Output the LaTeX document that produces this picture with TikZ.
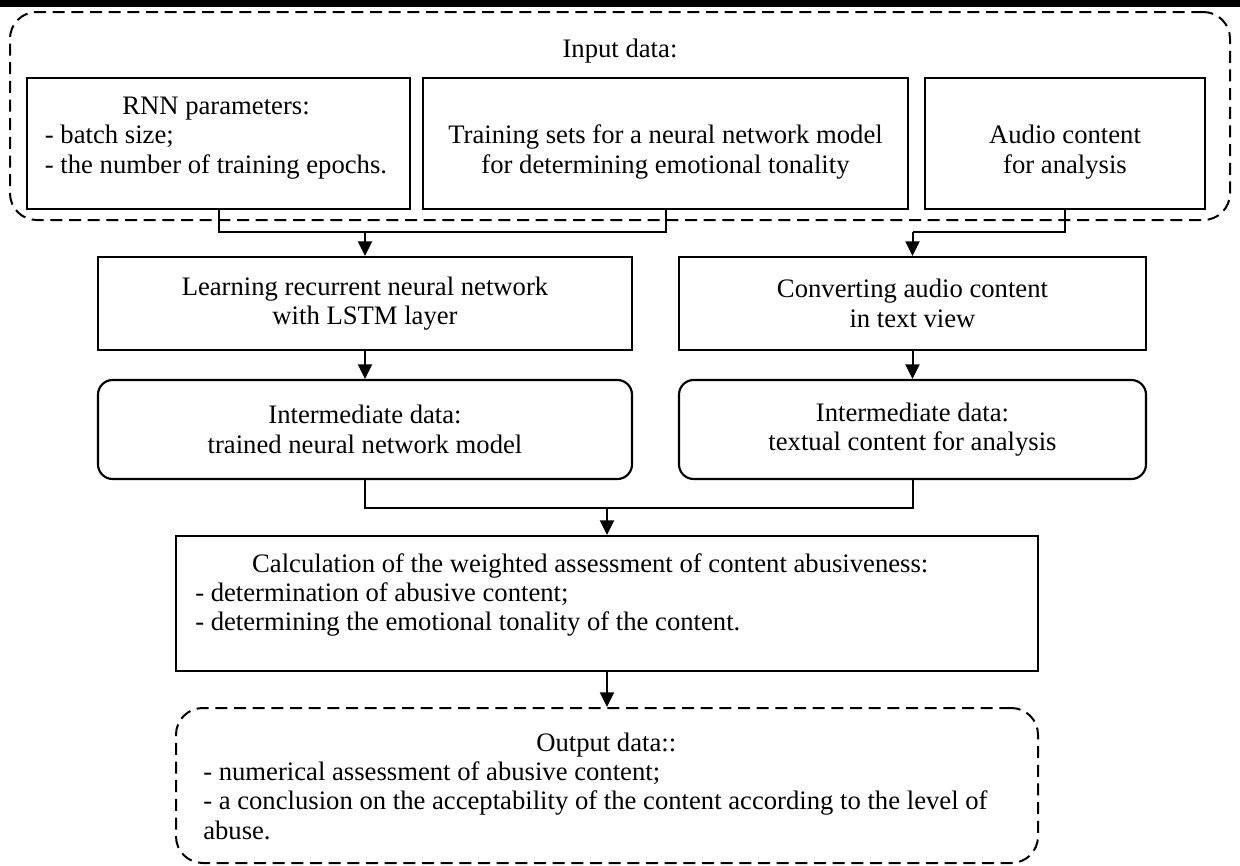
\documentclass[tikz,border=0pt]{standalone}
\usepackage{fontspec}
\setmainfont{Liberation Serif}
\usetikzlibrary{arrows.meta}
\begin{document}
\begin{tikzpicture}[x=0.75pt,y=-0.75pt,
  every node/.style={font=\fontsize{20}{22}\selectfont},
  sz/.style 2 args={minimum width=#1*0.75pt, minimum height=#2*0.75pt},
  ln/.style={line width=1.5pt},
  boxs/.style={draw, line width=1.6pt, rectangle, inner sep=0pt, align=center},
  rbox/.style={boxs, rounded corners=11pt},
  dbox/.style={draw, line width=1.5pt, dash pattern=on 9pt off 5pt, rounded corners=20pt, inner sep=0pt},
  txt/.style={inner sep=0pt},
  arr/.style={line width=1.5pt, -{Triangle[length=11pt,width=10.5pt]}},
]
\useasboundingbox (0,0) rectangle (1240,865);
\fill (0,0) rectangle (1240,7);

% input group
\node[dbox, sz={1220}{208}] (input) at (620,116) {};
\node[txt, anchor=base] (inlbl) at (620,57) {Input data:};
\node[boxs, sz={383}{131}] (rnn) at (218.5,143.5) {};
\node[txt, anchor=base] (rnntxt) at (216,173) {\begin{tabular}[b]{@{}l@{}}\multicolumn{1}{@{}c@{}}{RNN parameters:}\\- batch size;\\- the number of training epochs.\end{tabular}};
\node[boxs, sz={485}{131}] (train) at (665.5,143.5) {};
\node[txt, anchor=base] (traintxt) at (665.5,173) {\begin{tabular}[b]{@{}c@{}}Training sets for a neural network model\\for determining emotional tonality\end{tabular}};
\node[boxs, sz={280}{131}] (audio) at (1065,143.5) {};
\node[txt, anchor=base] (audiotxt) at (1065,173) {\begin{tabular}[b]{@{}c@{}}Audio content\\for analysis\end{tabular}};

% processing
\node[boxs, sz={534}{93}] (learn) at (365,303.5) {Learning recurrent neural network\\with LSTM layer};
\node[boxs, sz={467}{93}] (conv) at (912.5,303.5) {Converting audio content\\in text view};
\node[rbox, sz={534}{99}] (intl) at (365,429.5) {Intermediate data:\\trained neural network model};
\node[rbox, sz={467}{99}] (intr) at (912.5,429.5) {Intermediate data:\\textual content for analysis};

% calculation
\node[boxs, sz={862}{135}] (calc) at (607,603.5) {};
\node[txt, anchor=base west] (calctxt) at (195,572) {\begin{tabular}[t]{@{}p{592.5pt}@{}}\multicolumn{1}{@{}c@{}}{Calculation of the weighted assessment of content abusiveness:}\\\mbox{- determination of abusive content;}\\\mbox{- determining the emotional tonality of the content.}\end{tabular}};

% output
\node[dbox, sz={862}{155}] (out) at (607,785.5) {};
\node[txt, anchor=base west] (outtxt) at (203,751) {\begin{tabular}[t]{@{}p{604.5pt}@{}}\multicolumn{1}{@{}c@{}}{Output data::}\\\mbox{- numerical assessment of abusive content;}\\\mbox{- a conclusion on the acceptability of the content according to the level of}\\abuse.\end{tabular}};

% connectors
\coordinate (jin) at (365,232);
\coordinate (jau) at (912.5,232);
\coordinate (jmid) at (607,508);
\draw[ln] (rnn.south) |- (jin);
\draw[ln] (train.south) |- (jin);
\draw[arr] (jin) -- (learn.north);
\draw[ln] (audio.south) |- (jau);
\draw[arr] (jau) -- (conv.north);
\draw[arr] (learn.south) -- (intl.north);
\draw[arr] (conv.south) -- (intr.north);
\draw[ln] (intl.south) |- (jmid);
\draw[ln] (intr.south) |- (jmid);
\draw[arr] (jmid) -- (calc.north);
\draw[arr] (calc.south) -- (out.north);
\end{tikzpicture}
\end{document}
